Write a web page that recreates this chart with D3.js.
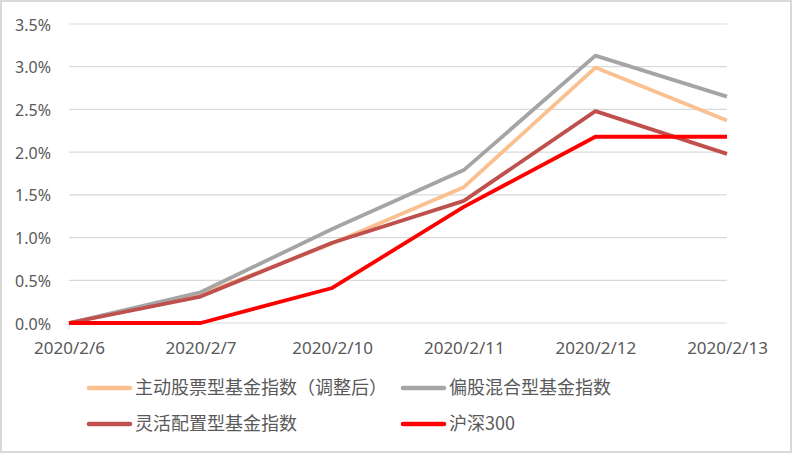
<!DOCTYPE html>
<html>
<head>
<meta charset="utf-8">
<script src="https://cdn.jsdelivr.net/npm/d3@7"></script>
<style>
  body { margin: 0; background: #fff; }
  text { font-family: "Noto Sans", "Noto Sans CJK SC", sans-serif; fill: #595959; }
  .legend text { font-family: "Noto Sans CJK SC", sans-serif; }
</style>
</head>
<body>
<div id="chart"></div>
<script>
// data (percent)
var dates = ["2020/2/6", "2020/2/7", "2020/2/10", "2020/2/11", "2020/2/12", "2020/2/13"];
var seriesNames = ["主动股票型基金指数（调整后）", "偏股混合型基金指数", "灵活配置型基金指数", "沪深300"];
var activeStock = [0, 0.33, 0.93, 1.59, 2.99, 2.37];
var mixedStock = [0, 0.36, 1.10, 1.79, 3.13, 2.65];
var flexAlloc = [0, 0.31, 0.94, 1.43, 2.48, 1.98];
var hs300 = [0, 0, 0.41, 1.36, 2.18, 2.18];
var yTicks = [0, 0.5, 1.0, 1.5, 2.0, 2.5, 3.0, 3.5];

var colors = ["#FAC090", "#A5A5A5", "#C0504D", "#FF0000"];
var allSeries = [activeStock, mixedStock, flexAlloc, hs300];

var svgWidth = 792;
var svgHeight = 453;
var margin = { top: 24, right: 65, bottom: 130, left: 69 };
var width = svgWidth - margin.left - margin.right;
var height = svgHeight - margin.top - margin.bottom;

var svg = d3.select("#chart")
  .append("svg")
  .attr("width", svgWidth)
  .attr("height", svgHeight);

// chart border
svg.append("rect")
  .attr("x", 1).attr("y", 1)
  .attr("width", svgWidth - 2).attr("height", svgHeight - 2)
  .attr("fill", "#fff")
  .attr("stroke", "#d9d9d9")
  .attr("stroke-width", 2);

var g = svg.append("g")
  .attr("transform", `translate(${margin.left}, ${margin.top})`);

var x = d3.scalePoint()
  .domain(dates)
  .range([0, width]);

var y = d3.scaleLinear()
  .domain([0, 3.5])
  .range([height, 0]);

// gridlines
g.selectAll(".grid")
  .data(yTicks)
  .enter()
  .append("line")
  .attr("x1", 0)
  .attr("x2", width)
  .attr("y1", d => y(d))
  .attr("y2", d => y(d))
  .attr("stroke", "#d9d9d9")
  .attr("stroke-width", 1.2);

// small mark at the axis origin
g.append("line")
  .attr("x1", 0).attr("x2", 0)
  .attr("y1", height).attr("y2", height + 6)
  .attr("stroke", "#d9d9d9")
  .attr("stroke-width", 1.2);

// y axis labels
var leftAxis = d3.axisLeft(y).tickValues(yTicks).tickSize(0).tickPadding(18)
  .tickFormat(d => d.toFixed(1) + "%");
var yAxis = g.append("g").call(leftAxis);
yAxis.select(".domain").remove();
yAxis.selectAll("text").style("font-size", "16px").attr("fill", "#595959").attr("dy", "0.38em");

// x axis labels
var bottomAxis = d3.axisBottom(x).tickSize(0).tickPadding(19);
var xAxis = g.append("g")
  .attr("transform", `translate(0, ${height})`)
  .call(bottomAxis);
xAxis.select(".domain").remove();
xAxis.selectAll("text").style("font-size", "17px").attr("fill", "#595959");

// lines
var line = d3.line()
  .x((d, i) => x(dates[i]))
  .y(d => y(d));

g.selectAll(".series")
  .data(allSeries)
  .enter()
  .append("path")
  .attr("d", d => line(d))
  .attr("fill", "none")
  .attr("stroke", (d, i) => colors[i])
  .attr("stroke-width", 3.8)
  .attr("stroke-linejoin", "round");

// legend
var legendPos = [[87, 388], [401, 388], [87, 424], [401, 424]];
var legend = svg.selectAll(".legend")
  .data(seriesNames)
  .enter()
  .append("g")
  .attr("class", "legend")
  .attr("transform", (d, i) => `translate(${legendPos[i][0]}, ${legendPos[i][1]})`);

legend.append("line")
  .attr("x1", 2).attr("x2", 43)
  .attr("y1", 0).attr("y2", 0)
  .attr("stroke", (d, i) => colors[i])
  .attr("stroke-width", 4.5)
  .attr("stroke-linecap", "round");

legend.append("text")
  .attr("x", 48)
  .attr("y", 0)
  .attr("dy", "0.36em")
  .style("font-size", "18px")
  .text(d => d);
</script>
</body>
</html>
